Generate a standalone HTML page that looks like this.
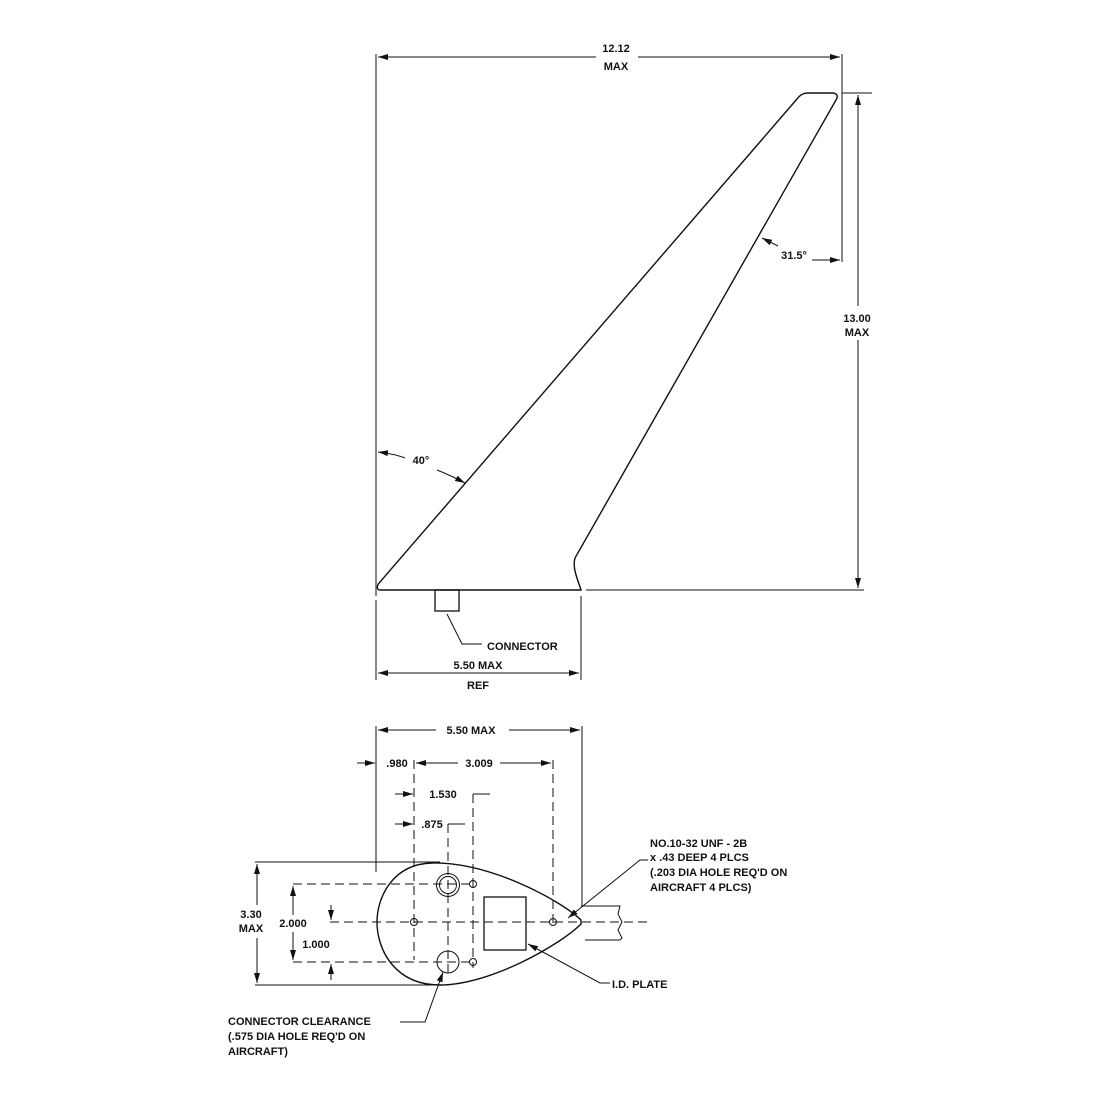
<!DOCTYPE html>
<html><head><style>
html,body{margin:0;padding:0;background:#fff;}
svg{display:block;}
text{font-family:"Liberation Sans",Arial,sans-serif;font-size:11px;font-weight:bold;fill:#111;}
</style></head><body>
<svg width="1100" height="1100" viewBox="0 0 1100 1100" xmlns="http://www.w3.org/2000/svg">
<defs>
<marker id="a" markerWidth="10" markerHeight="6" refX="10" refY="3" orient="auto-start-reverse" markerUnits="userSpaceOnUse">
<path d="M0,0 L10,3 L0,6 Z" fill="#111"/></marker>
</defs>
<g stroke="#111" stroke-width="1" fill="none">
<!-- top view -->
<line x1="376" y1="54" x2="376" y2="596"/>
<line x1="842" y1="54" x2="842" y2="262"/>
<line x1="378" y1="57" x2="596" y2="57" marker-start="url(#a)"/>
<line x1="638" y1="57" x2="840" y2="57" marker-end="url(#a)"/>
<path d="M380,590 L581,590 C578,580 572,568 575,558 L836,100 C839,95 836,93 832,93 L808,93 C803,93 800,95 797,99 L380,582 C376,586 377,590 380,590 Z" stroke-width="1.4"/>
<line x1="842" y1="93" x2="872" y2="93"/>
<line x1="586" y1="590" x2="864" y2="590"/>
<line x1="858" y1="95" x2="858" y2="306" marker-start="url(#a)"/>
<line x1="858" y1="340" x2="858" y2="588" marker-end="url(#a)"/>
<path d="M778,246 L762,238" marker-end="url(#a)"/>
<line x1="812" y1="260" x2="840" y2="260" marker-end="url(#a)"/>
<path d="M378,452 Q395,454 405,458" marker-start="url(#a)"/>
<path d="M437,470 Q452,476 465,483" marker-end="url(#a)"/>
<rect x="435" y="590" width="24" height="21" stroke-width="1.3"/>
<polyline points="447,614 462,644 482,644"/>
<line x1="376" y1="600" x2="376" y2="680"/>
<line x1="581" y1="596" x2="581" y2="680"/>
<line x1="378" y1="673" x2="579" y2="673" marker-start="url(#a)" marker-end="url(#a)"/>
<!-- bottom view -->
<line x1="376" y1="726" x2="376" y2="872"/>
<line x1="582" y1="726" x2="582" y2="906"/>
<line x1="378" y1="730" x2="436" y2="730" marker-start="url(#a)"/>
<line x1="509" y1="730" x2="580" y2="730" marker-end="url(#a)"/>
<line x1="357" y1="763" x2="375" y2="763" marker-end="url(#a)"/>
<line x1="416" y1="763" x2="458" y2="763" marker-start="url(#a)"/>
<line x1="500" y1="763" x2="551" y2="763" marker-end="url(#a)"/>
<line x1="395" y1="794" x2="413" y2="794" marker-end="url(#a)"/>
<line x1="473" y1="794" x2="490" y2="794"/>
<line x1="395" y1="824" x2="413" y2="824" marker-end="url(#a)"/>
<line x1="448" y1="824" x2="465" y2="824"/>
<g stroke-dasharray="9,5">
<line x1="414" y1="760" x2="414" y2="960"/>
<line x1="553" y1="760" x2="553" y2="925"/>
<line x1="473" y1="794" x2="473" y2="968"/>
<line x1="448" y1="824" x2="448" y2="975"/>
<line x1="330" y1="922" x2="650" y2="922"/>
<line x1="293" y1="884" x2="470" y2="884"/>
<line x1="293" y1="962" x2="470" y2="962"/>
</g>
<path d="M581,920 C560,900 490,862 432,863 C392,864 377,898 377,922 C377,950 395,985 440,985 C490,985 560,945 581,924 Z" stroke-width="1.4"/>
<polyline points="581,906 620,906 618,914 622,922 618,930 622,938 620,940 585,940"/>
<circle cx="448" cy="885" r="8.5"/><circle cx="448" cy="885" r="11.5"/>
<circle cx="448" cy="962" r="11"/>
<circle cx="473" cy="884" r="3.5"/><circle cx="414" cy="922" r="3.5"/>
<circle cx="553" cy="922" r="3.5"/><circle cx="473" cy="962" r="3.5"/>
<rect x="484" y="897" width="42" height="53" stroke-width="1.3"/>
<line x1="255" y1="862" x2="440" y2="862"/>
<line x1="255" y1="985" x2="440" y2="985"/>
<line x1="257" y1="864" x2="257" y2="905" marker-start="url(#a)"/>
<line x1="257" y1="938" x2="257" y2="983" marker-end="url(#a)"/>
<line x1="293" y1="886" x2="293" y2="915" marker-start="url(#a)"/>
<line x1="293" y1="932" x2="293" y2="960" marker-end="url(#a)"/>
<line x1="331" y1="905" x2="331" y2="920" marker-end="url(#a)"/>
<line x1="331" y1="980" x2="331" y2="964" marker-end="url(#a)"/>
<polyline points="648,860 640,860 568,918" marker-end="url(#a)"/>
<polyline points="610,983 600,983 528,944" marker-end="url(#a)"/>
<polyline points="400,1022 425,1022 443,972" marker-end="url(#a)"/>
</g>
<text x="616" y="52" text-anchor="middle">12.12</text>
<text x="616" y="70" text-anchor="middle">MAX</text>
<text x="857" y="322" text-anchor="middle">13.00</text>
<text x="857" y="336" text-anchor="middle">MAX</text>
<text x="794" y="259" text-anchor="middle">31.5°</text>
<text x="421" y="464" text-anchor="middle">40°</text>
<text x="487" y="650">CONNECTOR</text>
<text x="478" y="669" text-anchor="middle">5.50 MAX</text>
<text x="478" y="689" text-anchor="middle">REF</text>
<text x="471" y="734" text-anchor="middle">5.50 MAX</text>
<text x="397" y="767" text-anchor="middle">.980</text>
<text x="479" y="767" text-anchor="middle">3.009</text>
<text x="443" y="798" text-anchor="middle">1.530</text>
<text x="432" y="828" text-anchor="middle">.875</text>
<text x="251" y="918" text-anchor="middle">3.30</text>
<text x="251" y="932" text-anchor="middle">MAX</text>
<text x="293" y="927" text-anchor="middle">2.000</text>
<text x="316" y="948" text-anchor="middle">1.000</text>
<text x="650" y="847">NO.10-32 UNF - 2B</text>
<text x="650" y="861">x .43 DEEP 4 PLCS</text>
<text x="650" y="876">(.203 DIA HOLE REQ'D ON</text>
<text x="650" y="891">AIRCRAFT 4 PLCS)</text>
<text x="612" y="988">I.D. PLATE</text>
<text x="228" y="1025">CONNECTOR CLEARANCE</text>
<text x="228" y="1040">(.575 DIA HOLE REQ'D ON</text>
<text x="228" y="1055">AIRCRAFT)</text>
</svg>
</body></html>
